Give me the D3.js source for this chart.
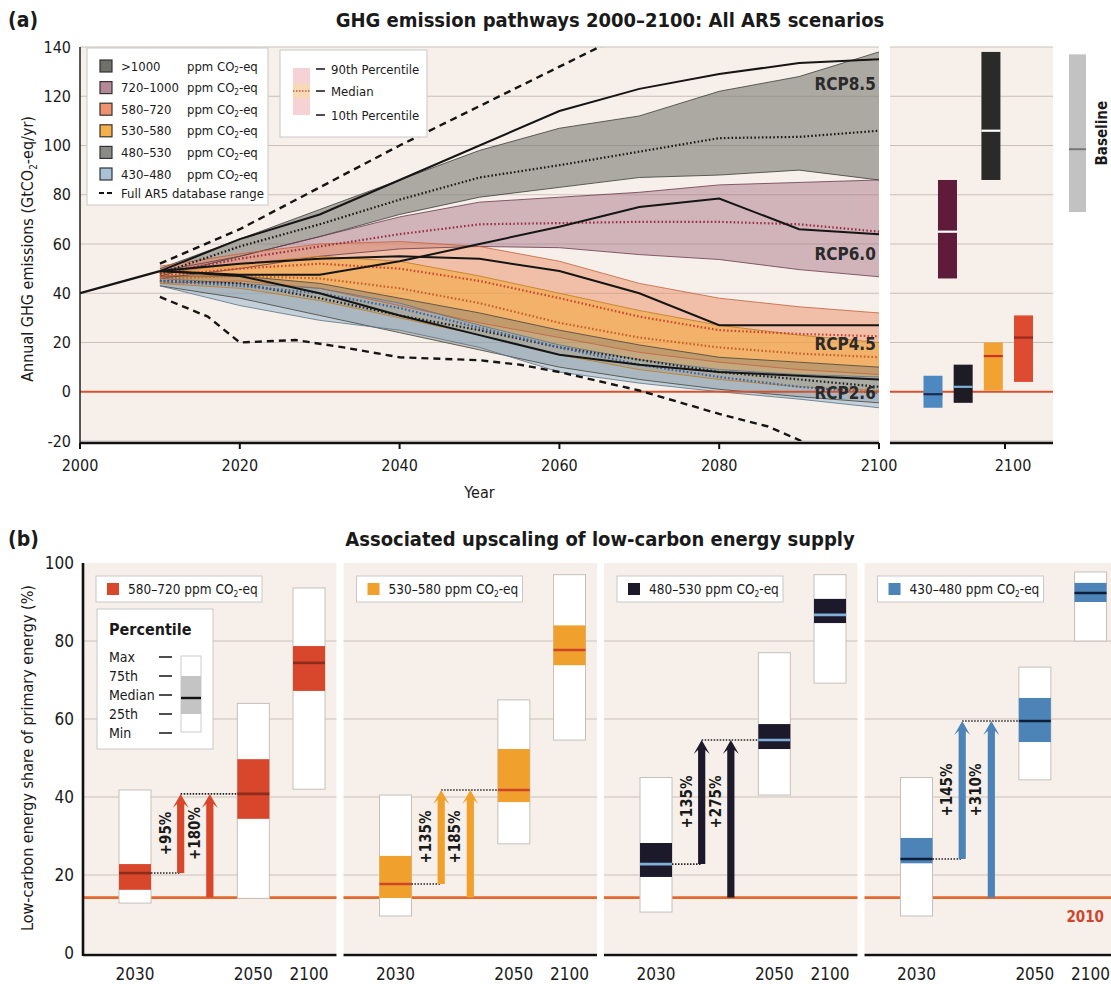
<!DOCTYPE html>
<html><head><meta charset="utf-8">
<script src="https://cdn.jsdelivr.net/npm/d3@7"></script>
<style>
body{margin:0;background:#fff;}
svg text{font-family:"Liberation Sans Narrow","DejaVu Sans Condensed","Open Sans",sans-serif;fill:#1a1a1a;}
</style></head><body>
<svg id="c" width="1111" height="984"></svg>
<script>
// ================= DATA : panel (a) =================
const histYears = [2000, 2005, 2010];
const histValues = [40, 44.5, 49];
const bandYears = [2010, 2020, 2030, 2040, 2050, 2060, 2070, 2080, 2090, 2100];

const c1000_p90 = [50, 62, 74, 86, 98, 107, 112, 122, 128, 138];
const c1000_med = [48, 59, 68, 78, 87, 92, 97.5, 103, 103.5, 106];
const c1000_p10 = [47, 55, 63, 72, 79, 83, 87, 88, 90, 86];

const c720_p90 = [49, 55, 63, 71, 77, 79, 81, 84, 85, 86];
const c720_med = [48, 54, 59, 64, 68, 68.5, 69, 69, 68, 65];
const c720_p10 = [46, 50, 55, 58, 59, 58.5, 55.7, 53.7, 49.6, 46.7];

const c580_p90 = [51, 56, 60, 61, 59, 53, 44, 38, 34.5, 32];
const c580_med = [47, 50, 52, 50, 45, 38, 30.5, 25, 23.5, 22.5];
const c580_p10 = [44, 45, 42, 35, 28, 22, 16, 12, 9, 7];

const c530_p90 = [48, 52, 55, 53, 47, 40, 33, 27, 23, 20];
const c530_med = [46, 47, 46, 42, 36, 28, 22, 18, 15.5, 14];
const c530_p10 = [44, 42, 37, 30, 23, 15, 9, 5, 2, 0.5];

const c480_p90 = [47, 47, 44, 38, 32, 25, 19, 14, 12, 10];
const c480_med = [45, 44, 38, 31, 25, 18, 13, 8, 5, 2];
const c480_p10 = [43, 38, 31, 24, 17, 10, 5, 1, -2, -4.5];

const c430_p90 = [46, 44, 42, 36, 27, 19, 13, 9, 7, 6];
const c430_med = [45, 43, 40, 34, 26, 18, 11, 6, 2, -0.5];
const c430_p10 = [43, 35, 29, 25, 18, 8, 3.5, 0, -3, -6.5];

const rcp85 = [49, 62, 72, 86, 100, 114, 123, 129, 133.5, 135];
const rcp60 = [49, 47.5, 47.5, 53, 60, 67, 75, 78.5, 66, 64];
const rcp45 = [49, 52, 54, 55, 54, 49, 40, 27, 27, 27];
const rcp26 = [49, 47, 40, 31, 23, 15, 11, 8, 6.5, 5];
const rcpNames = ["RCP8.5", "RCP6.0", "RCP4.5", "RCP2.6"];
const rcpLabelAt = [125, 56, 19.5, -0.5];

const rangeUpYears = [2010, 2020, 2030, 2040, 2050, 2060, 2070];
const rangeUp = [52, 66, 83, 100, 116, 132, 148];
const rangeLoYears = [2010, 2016, 2020, 2027, 2033, 2040, 2050, 2055, 2060, 2070, 2080, 2086, 2091];
const rangeLo = [38.5, 30.5, 20, 21, 18, 14, 12.8, 11, 8, 0.5, -9, -14, -21];

const yTicksA = [-20, 0, 20, 40, 60, 80, 100, 120, 140];
const xTicksA = [2000, 2020, 2040, 2060, 2080, 2100];

// 2100 bars (right side panel)
const barCats = ["430–480", "720–1000", "480–530", ">1000", "530–580", "580–720"];
const barSlot = [0, 0.48, 1, 1.92, 2, 3];
const barLow = [-6.5, 46, -4.5, 86, 0.5, 4];
const barMed = [-1, 65, 2, 106, 14.5, 22];
const barHigh = [6.5, 86, 11, 138, 20, 31];
const baselineLow = 73, baselineMed = 98.5, baselineHigh = 137;

// ================= DATA : panel (b) =================
const bCats = ["580–720", "530–580", "480–530", "430–480"];
const bTimes = ["2030", "2050", "2100"];
const min2030 = [12.8, 9.5, 10.5, 9.5];
const q25_2030 = [16.2, 14.1, 19.5, 23];
const med2030 = [20.5, 17.7, 22.8, 24.1];
const q75_2030 = [22.8, 24.9, 28.2, 29.5];
const max2030 = [41.8, 40.5, 45, 45];
const min2050 = [14, 28, 40.5, 44.4];
const q25_2050 = [34.4, 38.7, 52.3, 54.1];
const med2050 = [40.8, 41.8, 54.6, 59.5];
const q75_2050 = [49.7, 52.3, 58.7, 65.4];
const max2050 = [64, 64.9, 77, 73.3];
const min2100 = [42, 54.6, 69.2, 80];
const q25_2100 = [67.2, 73.8, 84.6, 90];
const med2100 = [74.4, 77.7, 86.7, 92.3];
const q75_2100 = [78.7, 84, 90.8, 94.9];
const max2100 = [93.6, 97, 97, 97.7];
const share2010 = 14.2;
const inc2030 = ["+95%", "+135%", "+135%", "+145%"];
const inc2010 = ["+180%", "+185%", "+275%", "+310%"];
const yTicksB = [0, 20, 40, 60, 80, 100];

// ================= STYLE =================
const BG = "#f7f0ea";
const GRID = "#c9c0b8";
const ZERO = "#d4532e";

const svg = d3.select("#c");

function co2Text(g, x, y, pre, post, size, attrs) {
  const t = g.append("text").attr("x", x).attr("y", y).attr("font-size", size);
  if (attrs) Object.entries(attrs).forEach(([k, v]) => t.attr(k, v));
  t.append("tspan").text(pre + "CO");
  t.append("tspan").text("2").attr("font-size", size * 0.62).attr("dy", size * 0.22);
  t.append("tspan").text(post).attr("dy", -size * 0.22);
  return t;
}

// ================= PANEL (a) =================
const xA = d3.scaleLinear().domain([2000, 2100]).range([80, 879]);
const yA = d3.scaleLinear().domain([-20, 140]).range([441, 47]);
const xR = d3.scaleLinear().domain([0, 3]).range([933, 1023.5]);
const rpL = 890, rpR = 1053;

const gA = svg.append("g");
gA.append("rect").attr("x", xA(2000)).attr("y", yA(140)).attr("width", xA(2100) - xA(2000))
  .attr("height", yA(-20) - yA(140)).attr("fill", BG);
gA.append("rect").attr("x", rpL).attr("y", yA(140)).attr("width", rpR - rpL)
  .attr("height", yA(-20) - yA(140)).attr("fill", BG);

// gridlines
yTicksA.forEach(v => {
  if (v === 0) return;
  gA.append("line").attr("x1", xA(2000)).attr("x2", xA(2100)).attr("y1", yA(v)).attr("y2", yA(v))
    .attr("stroke", GRID).attr("stroke-width", 1);
  gA.append("line").attr("x1", rpL).attr("x2", rpR).attr("y1", yA(v)).attr("y2", yA(v))
    .attr("stroke", GRID).attr("stroke-width", 1);
});

const clip = svg.append("clipPath").attr("id", "clipA");
clip.append("rect").attr("x", xA(2000)).attr("y", yA(140)).attr("width", xA(2100) - xA(2000))
  .attr("height", yA(-20) - yA(140));
const plotA = gA.append("g").attr("clip-path", "url(#clipA)");

const cats = [
  {p90: c1000_p90, med: c1000_med, p10: c1000_p10, fill: "#7e7e76", op: 0.62, edge: "#3d3d3a", medc: "#1a1a1a"},
  {p90: c720_p90, med: c720_med, p10: c720_p10, fill: "#a9788a", op: 0.5, edge: "#6a3a4c", medc: "#9c3043"},
  {p90: c580_p90, med: c580_med, p10: c580_p10, fill: "#ec8e64", op: 0.5, edge: "#c4603c", medc: "#cc4530"},
  {p90: c530_p90, med: c530_med, p10: c530_p10, fill: "#f2a738", op: 0.55, edge: "#c07a1e", medc: "#c8602a"},
  {p90: c480_p90, med: c480_med, p10: c480_p10, fill: "#807d72", op: 0.42, edge: "#45433c", medc: "#222"},
  {p90: c430_p90, med: c430_med, p10: c430_p10, fill: "#8fb0c8", op: 0.5, edge: "#5b7387", medc: "#3a62a8"}
];

cats.forEach(c => {
  const area = d3.area().x((d, i) => xA(bandYears[i])).y0((d, i) => yA(c.p10[i])).y1(d => yA(d));
  plotA.append("path").datum(c.p90).attr("d", area).attr("fill", c.fill).attr("fill-opacity", c.op);
});
cats.forEach(c => {
  const line = d3.line().x((d, i) => xA(bandYears[i])).y(d => yA(d));
  [c.p90, c.p10].forEach(arr => plotA.append("path").datum(arr).attr("d", line).attr("fill", "none")
    .attr("stroke", c.edge).attr("stroke-width", 1).attr("stroke-opacity", 0.8));
});
cats.forEach(c => {
  const line = d3.line().x((d, i) => xA(bandYears[i])).y(d => yA(d));
  plotA.append("path").datum(c.med).attr("d", line).attr("fill", "none")
    .attr("stroke", c.medc).attr("stroke-width", 2.2).attr("stroke-dasharray", "1.6,2.2");
});

// zero line
plotA.append("line").attr("x1", xA(2000)).attr("x2", xA(2100)).attr("y1", yA(0)).attr("y2", yA(0))
  .attr("stroke", ZERO).attr("stroke-width", 2);
gA.append("line").attr("x1", rpL).attr("x2", rpR).attr("y1", yA(0)).attr("y2", yA(0))
  .attr("stroke", ZERO).attr("stroke-width", 2);

// RCP lines
const lineA = d3.line().x((d, i) => xA(bandYears[i])).y(d => yA(d));
[rcp85, rcp60, rcp45, rcp26].forEach(r => {
  plotA.append("path").datum(r).attr("d", lineA).attr("fill", "none").attr("stroke", "#151515").attr("stroke-width", 2);
});
// historical
plotA.append("path").datum(histValues)
  .attr("d", d3.line().x((d, i) => xA(histYears[i])).y(d => yA(d)))
  .attr("fill", "none").attr("stroke", "#151515").attr("stroke-width", 2.2);
// full range dashed
plotA.append("path").datum(rangeUp)
  .attr("d", d3.line().x((d, i) => xA(rangeUpYears[i])).y(d => yA(d)))
  .attr("fill", "none").attr("stroke", "#151515").attr("stroke-width", 2.4).attr("stroke-dasharray", "7,5");
plotA.append("path").datum(rangeLo)
  .attr("d", d3.line().x((d, i) => xA(rangeLoYears[i])).y(d => yA(d)))
  .attr("fill", "none").attr("stroke", "#151515").attr("stroke-width", 2.4).attr("stroke-dasharray", "7,5");

// RCP labels
rcpNames.forEach((n, i) => {
  gA.append("text").attr("x", xA(2099.6)).attr("y", yA(rcpLabelAt[i])).attr("dy", "0.35em")
    .attr("text-anchor", "end").attr("font-size", 17).attr("font-weight", "bold").style("fill", "#2a2a2a").text(n);
});

// right panel bars
const barFill = ["#4e88c0", "#5e1c3a", "#1d1c24", "#2a2a28", "#f2a232", "#dd4b30"];
const barMedC = ["#1b2c4c", "#ffffff", "#7fb0d8", "#ffffff", "#c8342a", "#9a2a1e"];
const bw = 19;
barCats.forEach((c, i) => {
  const cx = xR(barSlot[i]);
  gA.append("rect").attr("x", cx - bw / 2).attr("y", yA(barHigh[i])).attr("width", bw)
    .attr("height", yA(barLow[i]) - yA(barHigh[i])).attr("fill", barFill[i]);
  gA.append("line").attr("x1", cx - bw / 2).attr("x2", cx + bw / 2).attr("y1", yA(barMed[i])).attr("y2", yA(barMed[i]))
    .attr("stroke", barMedC[i]).attr("stroke-width", 2.2);
});
// baseline bar
const bx = xR(4.79);
gA.append("rect").attr("x", bx - 8.5).attr("y", yA(baselineHigh)).attr("width", 17)
  .attr("height", yA(baselineLow) - yA(baselineHigh)).attr("fill", "#c2c2c2");
gA.append("line").attr("x1", bx - 8.5).attr("x2", bx + 8.5).attr("y1", yA(baselineMed)).attr("y2", yA(baselineMed))
  .attr("stroke", "#777").attr("stroke-width", 2);
gA.append("text").attr("transform", `translate(${bx + 30},${yA(105)}) rotate(-90)`).attr("text-anchor", "middle")
  .attr("font-size", 15).attr("font-weight", "bold").text("Baseline");

// axes (a)
gA.append("line").attr("x1", xA(2000)).attr("x2", xA(2000)).attr("y1", yA(140)).attr("y2", 443)
  .attr("stroke", "#222").attr("stroke-width", 1.5);
gA.append("line").attr("x1", xA(2000)).attr("x2", xA(2100)).attr("y1", 443).attr("y2", 443)
  .attr("stroke", "#111").attr("stroke-width", 2.5);
gA.append("line").attr("x1", rpL).attr("x2", rpR).attr("y1", 443).attr("y2", 443)
  .attr("stroke", "#111").attr("stroke-width", 2.5);
gA.append("line").attr("x1", 1005).attr("x2", 1005).attr("y1", 443).attr("y2", 449)
  .attr("stroke", "#111").attr("stroke-width", 2);
gA.append("text").attr("x", 1013).attr("y", 471).attr("text-anchor", "middle").attr("font-size", 16).text("2100");
yTicksA.forEach(v => {
  gA.append("text").attr("x", 71).attr("y", yA(v)).attr("dy", "0.35em").attr("text-anchor", "end")
    .attr("font-size", 16).text(v);
});
xTicksA.forEach(v => {
  gA.append("line").attr("x1", xA(v)).attr("x2", xA(v)).attr("y1", 443).attr("y2", 449)
    .attr("stroke", "#111").attr("stroke-width", 2);
  gA.append("text").attr("x", xA(v)).attr("y", 471).attr("text-anchor", "middle").attr("font-size", 16).text(v);
});
gA.append("text").attr("x", xA(2050)).attr("y", 498).attr("text-anchor", "middle").attr("font-size", 16).text("Year");
co2Text(gA, 0, 0, "Annual GHG emissions (Gt", "-eq/yr)", 16,
  {transform: `translate(33,${yA(58)}) rotate(-90)`, "text-anchor": "middle"});

// titles
svg.append("text").attr("x", 8).attr("y", 27).attr("font-size", 21).attr("font-weight", "bold").text("(a)");
svg.append("text").attr("x", 610).attr("y", 27).attr("text-anchor", "middle").attr("font-size", 20)
  .attr("font-weight", "bold").text("GHG emission pathways 2000–2100: All AR5 scenarios");

// legend (a)
const legNames = [">1000", "720–1000", "580–720", "530–580", "480–530", "430–480"];
const legFill = ["#6f6f6b", "#b58898", "#ee9270", "#f5b04c", "#8a8a86", "#a9c2d6"];
gA.append("rect").attr("x", 87).attr("y", 48).attr("width", 181).attr("height", 157)
  .attr("fill", "#fff").attr("stroke", "#c8c8c8");
legNames.forEach((n, i) => {
  const y = 66 + i * 21.6;
  gA.append("rect").attr("x", 100).attr("y", y - 6).attr("width", 12).attr("height", 12)
    .attr("fill", legFill[i]).attr("stroke", "#333").attr("stroke-width", 1.2);
  gA.append("text").attr("x", 121).attr("y", y).attr("dy", "0.35em").attr("font-size", 13).text(n);
  co2Text(gA, 187, y + 4.5, "ppm ", "-eq", 13);
});
gA.append("line").attr("x1", 99).attr("x2", 115).attr("y1", 193).attr("y2", 193)
  .attr("stroke", "#111").attr("stroke-width", 2).attr("stroke-dasharray", "5,3");
gA.append("text").attr("x", 121).attr("y", 193).attr("dy", "0.35em").attr("font-size", 13).text("Full AR5 database range");

gA.append("rect").attr("x", 280).attr("y", 50).attr("width", 147).attr("height", 87)
  .attr("fill", "#fff").attr("stroke", "#c8c8c8");
gA.append("rect").attr("x", 293).attr("y", 68).attr("width", 17).attr("height", 47).attr("fill", "#f6d2d4");
gA.append("rect").attr("x", 293).attr("y", 84).attr("width", 17).attr("height", 14).attr("fill", "#f7d9b6");
gA.append("line").attr("x1", 293).attr("x2", 310).attr("y1", 91).attr("y2", 91)
  .attr("stroke", "#c85a3a").attr("stroke-width", 1.5).attr("stroke-dasharray", "1.5,1.5");
["90th Percentile", "Median", "10th Percentile"].forEach((t, i) => {
  const y = [69, 91, 115][i];
  gA.append("line").attr("x1", 316).attr("x2", 325).attr("y1", y).attr("y2", y).attr("stroke", "#222").attr("stroke-width", 1.6);
  gA.append("text").attr("x", 331).attr("y", y).attr("dy", "0.35em").attr("font-size", 13).text(t);
});

// ================= PANEL (b) =================
const yB = d3.scaleLinear().domain([0, 100]).range([953, 563]);
const panelB = d3.scaleBand().domain(bCats).range([83, 1118]).paddingInner(0.027);
const slot = d3.scaleLinear().domain([0, 4]).range([52, 226]);
const timeSlot = {"2030": 0, "2050": 2.72, "2100": 4};
const arrowSlot = [1.05, 1.72];
const bColors = ["#d8462c", "#f0a02c", "#1c1a2a", "#4c84b8"];
const bMedC = ["#8e2b1b", "#d0452a", "#7fb0d8", "#0f1d38"];
const boxW = 32;

const gB = svg.append("g");
svg.append("text").attr("x", 8).attr("y", 546).attr("font-size", 21).attr("font-weight", "bold").text("(b)");
svg.append("text").attr("x", 600).attr("y", 546).attr("text-anchor", "middle").attr("font-size", 20)
  .attr("font-weight", "bold").text("Associated upscaling of low-carbon energy supply");

const stats = {
  "2030": [min2030, q25_2030, med2030, q75_2030, max2030],
  "2050": [min2050, q25_2050, med2050, q75_2050, max2050],
  "2100": [min2100, q25_2100, med2100, q75_2100, max2100]
};

bCats.forEach((cat, ci) => {
  const x0 = panelB(cat), w = panelB.bandwidth();
  const g = gB.append("g");
  g.append("rect").attr("x", x0).attr("y", yB(100)).attr("width", w).attr("height", yB(0) - yB(100)).attr("fill", BG);
  yTicksB.filter(v => v > 0 && v < 100).forEach(v => {
    g.append("line").attr("x1", x0).attr("x2", x0 + w).attr("y1", yB(v)).attr("y2", yB(v))
      .attr("stroke", GRID).attr("stroke-width", 1);
  });
  // 2010 line
  g.append("line").attr("x1", x0).attr("x2", x0 + w).attr("y1", yB(share2010)).attr("y2", yB(share2010))
    .attr("stroke", "#e2682c").attr("stroke-width", 2.6);
  // boxes
  bTimes.forEach(t => {
    const [mn, q1, md, q3, mx] = stats[t].map(a => a[ci]);
    const cx = x0 + slot(timeSlot[t]);
    g.append("rect").attr("x", cx - boxW / 2).attr("y", yB(mx)).attr("width", boxW).attr("height", yB(mn) - yB(mx))
      .attr("fill", "#fff").attr("stroke", "#c6c0ba").attr("stroke-width", 1);
    g.append("rect").attr("x", cx - boxW / 2).attr("y", yB(q3)).attr("width", boxW).attr("height", yB(q1) - yB(q3))
      .attr("fill", bColors[ci]);
    g.append("line").attr("x1", cx - boxW / 2).attr("x2", cx + boxW / 2).attr("y1", yB(md)).attr("y2", yB(md))
      .attr("stroke", bMedC[ci]).attr("stroke-width", 2.6);
    g.append("text").attr("x", cx).attr("y", 980).attr("text-anchor", "middle")
      .attr("font-size", 17).text(t);
  });
  // arrows
  const a1 = x0 + slot(arrowSlot[0]), a2 = x0 + slot(arrowSlot[1]);
  const m30 = med2030[ci], m50 = med2050[ci];
  const c30 = x0 + slot(timeSlot["2030"]), c50 = x0 + slot(timeSlot["2050"]);
  g.append("line").attr("x1", c30 + boxW / 2).attr("x2", a1).attr("y1", yB(m30)).attr("y2", yB(m30))
    .attr("stroke", "#222").attr("stroke-width", 1.6).attr("stroke-dasharray", "1.5,1.5");
  g.append("line").attr("x1", a1).attr("x2", c50 - boxW / 2).attr("y1", yB(m50)).attr("y2", yB(m50))
    .attr("stroke", "#222").attr("stroke-width", 1.6).attr("stroke-dasharray", "1.5,1.5");
  const arrow = (cx, v0, v1) => {
    const y0 = yB(v0), y1 = yB(v1);
    return `M${cx - 3.6},${y0} L${cx - 3.6},${y1 + 10} L${cx - 8},${y1 + 14} L${cx},${y1} L${cx + 8},${y1 + 14} L${cx + 3.6},${y1 + 10} L${cx + 3.6},${y0} Z`;
  };
  g.append("path").attr("d", arrow(a1, m30, m50)).attr("fill", bColors[ci]);
  g.append("path").attr("d", arrow(a2, share2010, m50)).attr("fill", bColors[ci]);
  const ly = yB((m30 + m50) / 2);
  g.append("text").attr("transform", `translate(${a1 - 10},${ly}) rotate(-90)`).attr("text-anchor", "middle")
    .attr("font-size", 15).attr("font-weight", "bold").text(inc2030[ci]);
  g.append("text").attr("transform", `translate(${a2 - 10},${ly}) rotate(-90)`).attr("text-anchor", "middle")
    .attr("font-size", 15).attr("font-weight", "bold").text(inc2010[ci]);
  // bottom axis
  g.append("line").attr("x1", x0).attr("x2", x0 + w).attr("y1", 955).attr("y2", 955)
    .attr("stroke", "#111").attr("stroke-width", 2.6);
  // legend box
  g.append("rect").attr("x", x0 + 13).attr("y", 576).attr("width", 166).attr("height", 26)
    .attr("fill", "#fff").attr("stroke", "#c8c8c8");
  g.append("rect").attr("x", x0 + 24).attr("y", 583).attr("width", 12).attr("height", 12).attr("fill", bColors[ci]);
  co2Text(g, x0 + 45, 594, cat + " ppm ", "-eq", 13.5);
});
// 2010 label
gB.append("text").attr("x", 1104).attr("y", 922).attr("text-anchor", "end").attr("font-size", 15)
  .attr("font-weight", "bold").style("fill", "#d0452a").text("2010");

// percentile legend (panel 1)
gB.append("rect").attr("x", 97).attr("y", 609).attr("width", 116).attr("height", 140)
  .attr("fill", "#fff").attr("stroke", "#c8c8c8");
gB.append("text").attr("x", 109).attr("y", 635).attr("font-size", 16).attr("font-weight", "bold").text("Percentile");
["Max", "75th", "Median", "25th", "Min"].forEach((t, i) => {
  const y = 657 + i * 19;
  gB.append("text").attr("x", 109).attr("y", y).attr("dy", "0.35em").attr("font-size", 14).text(t);
  gB.append("line").attr("x1", 159).attr("x2", 172).attr("y1", y).attr("y2", y).attr("stroke", "#222").attr("stroke-width", 1.6);
});
gB.append("rect").attr("x", 181).attr("y", 656).attr("width", 20).attr("height", 76).attr("fill", "#fff").attr("stroke", "#ccc");
gB.append("rect").attr("x", 181).attr("y", 676).attr("width", 20).attr("height", 38).attr("fill", "#c4c4c4");
gB.append("line").attr("x1", 181).attr("x2", 201).attr("y1", 698).attr("y2", 698).attr("stroke", "#111").attr("stroke-width", 2.4);

// y axis (b)
gB.append("line").attr("x1", 83).attr("x2", 83).attr("y1", yB(100)).attr("y2", 956).attr("stroke", "#111").attr("stroke-width", 2.6);
yTicksB.forEach(v => {
  gB.append("text").attr("x", 74).attr("y", yB(v)).attr("dy", "0.35em").attr("text-anchor", "end")
    .attr("font-size", 17).text(v);
});
gB.append("text").attr("transform", `translate(33,${yB(50)}) rotate(-90)`).attr("text-anchor", "middle")
  .attr("font-size", 16).text("Low-carbon energy share of primary energy (%)");
</script></body></html>
